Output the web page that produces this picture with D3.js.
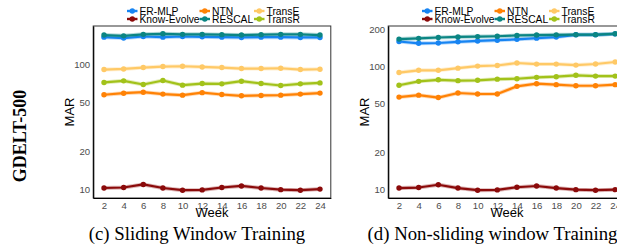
<!DOCTYPE html>
<html><head><meta charset="utf-8">
<script src="https://cdn.jsdelivr.net/npm/d3@7"></script>
<style>
html,body{margin:0;padding:0;background:#fff;}
svg{display:block;}
</style>
</head><body>
<svg id="chart" width="617" height="247"></svg>
<script>
// ---------- DATA ----------
const weeks = [2, 4, 6, 8, 10, 12, 14, 16, 18, 20, 22, 24];
const methods = ["ER-MLP", "Know-Evolve", "NTN", "RESCAL", "TransE", "TransR"];
const xTickLabels = ["2", "4", "6", "8", "10", "12", "14", "16", "18", "20", "22", "24"];
const yTicksSliding = [10, 20, 50, 100];
const yTicksNonSliding = [10, 20, 50, 100, 200];

// (c) Sliding window training
const slidingERMLP      = [166, 163, 168, 166, 168, 167, 166, 165, 166, 166, 165, 165];
const slidingKnowEvolve = [10.2, 10.3, 10.9, 10.2, 9.8, 9.85, 10.3, 10.6, 10.2, 9.9, 9.8, 10.0];
const slidingNTN        = [57.2, 58.9, 60.0, 57.9, 56.8, 59.5, 57.5, 56.1, 56.5, 56.8, 57.9, 59.0];
const slidingRESCAL     = [172.5, 170, 174.8, 176.5, 174.8, 174.8, 173.8, 172.5, 173.8, 174.8, 174.8, 172.5];
const slidingTransE     = [91.2, 92.2, 94.6, 96.4, 96.9, 95.7, 94.6, 92.9, 92.9, 93.4, 91.2, 91.7];
const slidingTransR     = [71.8, 74.0, 69.2, 74.5, 68.3, 70.4, 70.0, 73.5, 70.4, 67.9, 70.0, 71.2];

// (d) Non-sliding window training
const nonslidingERMLP      = [160, 154.6, 155.5, 159, 161.6, 164, 166.7, 170.3, 173.8, 181.4, 181.4, 184.6];
const nonslidingKnowEvolve = [10.2, 10.3, 10.85, 10.2, 9.8, 9.85, 10.35, 10.6, 10.2, 9.9, 9.8, 9.9];
const nonslidingNTN        = [56.3, 58.4, 55.8, 60.8, 59.7, 59.7, 68.9, 72.4, 71.1, 69.7, 69.7, 71.1];
const nonslidingRESCAL     = [167.3, 169.8, 172.4, 174.3, 175.4, 176.6, 179.2, 180.6, 181.3, 182, 182, 184.8];
const nonslidingTransE     = [89.3, 93.1, 93.1, 97.0, 100.8, 101.9, 106.8, 104.6, 104.6, 102.7, 104.8, 108.8];
const nonslidingTransR     = [70.3, 75.7, 77.9, 76.7, 77.2, 78.9, 79.5, 81.6, 82.6, 84.8, 83.5, 83.5];

const rowLabel = "GDELT-500";
const captions = ["(c) Sliding Window Training", "(d) Non-sliding window Training"];

// ---------- STYLE ----------
const colors = {
  "ER-MLP": "#1784f2",
  "Know-Evolve": "#8b0a0a",
  "NTN": "#ff8205",
  "RESCAL": "#0b8583",
  "TransE": "#ffc966",
  "TransR": "#a2c21a"
};
const SANS = "'Liberation Sans', Arial, Helvetica, sans-serif";
const SERIF = "'Liberation Serif', 'Times New Roman', serif";

const svg = d3.select("#chart");

const panels = [
  { left: 93.2, right: 330.8, series: [slidingERMLP, slidingKnowEvolve, slidingNTN, slidingRESCAL, slidingTransE, slidingTransR],
    yTicks: yTicksSliding, caption: captions[0], capX: 197 },
  { left: 388.2, right: 626, series: [nonslidingERMLP, nonslidingKnowEvolve, nonslidingNTN, nonslidingRESCAL, nonslidingTransE, nonslidingTransR],
    yTicks: yTicksNonSliding, caption: captions[1], capX: 492.5 }
];
const plotTop = 26, plotBottom = 198;

panels.forEach(p => {
  const g = svg.append("g");
  const xr = d3.extent(weeks);
  const xpad = (xr[1] - xr[0]) * 0.05;
  const x = d3.scaleLinear().domain([xr[0] - xpad, xr[1] + xpad]).range([p.left, p.right]);
  const all = p.series.flat();
  const lo = Math.log10(d3.min(all)), hi = Math.log10(d3.max(all));
  const ypad = (hi - lo) * 0.05;
  const y = d3.scaleLog().domain([Math.pow(10, lo - ypad), Math.pow(10, hi + ypad)]).range([plotBottom, plotTop]);

  g.append("rect").attr("x", p.left).attr("y", plotTop).attr("width", p.right - p.left).attr("height", plotBottom - plotTop)
    .attr("fill", "none").attr("stroke", "#333").attr("stroke-width", 1);

  const xAxis = d3.axisBottom(x).tickValues(weeks).tickFormat((d, i) => xTickLabels[i]).tickSize(0).tickPadding(4);
  const gx = g.append("g").attr("transform", `translate(0,${plotBottom})`).call(xAxis);
  gx.select(".domain").attr("stroke", "#000").attr("stroke-width", 1.2);
  gx.selectAll("text").attr("fill", "#4d4d4d").style("font-family", SANS).style("font-size", "9.6px");

  const yAxis = d3.axisLeft(y).tickValues(p.yTicks).tickFormat(d3.format("d")).tickSize(0).tickPadding(3);
  const gy = g.append("g").attr("transform", `translate(${p.left},0)`).call(yAxis);
  gy.select(".domain").attr("stroke", "#000").attr("stroke-width", 1.2);
  gy.selectAll("text").attr("fill", "#4d4d4d").style("font-family", SANS).style("font-size", "9.6px");

  g.append("text").attr("x", p.left + 118.8).attr("y", 216.5).attr("text-anchor", "middle")
    .style("font-family", SANS).style("font-size", "13px").attr("fill", "#000").text("Week");
  g.append("text").attr("transform", `translate(${p.left - 19.5},${(plotTop + plotBottom) / 2}) rotate(-90)`)
    .attr("text-anchor", "middle").style("font-family", SANS).style("font-size", "13px").attr("fill", "#000").text("MAR");

  const line = d3.line().x((d, i) => x(weeks[i])).y(d => y(d));
  methods.forEach((m, k) => {
    const vals = p.series[k];
    const sg = g.append("g");
    sg.append("path").attr("d", line(vals)).attr("fill", "none").attr("stroke", colors[m])
      .attr("stroke-width", 4).attr("stroke-opacity", 0.3).attr("stroke-linejoin", "round");
    sg.append("path").attr("d", line(vals)).attr("fill", "none").attr("stroke", colors[m])
      .attr("stroke-width", 2.2).attr("stroke-linejoin", "round");
    sg.selectAll("circle").data(vals).join("circle")
      .attr("cx", (d, i) => x(weeks[i])).attr("cy", d => y(d)).attr("r", 2.7).attr("fill", colors[m]);
  });

  const colOffsets = [46.3, 118.8, 173.3];
  const rowY = [11, 19];
  methods.forEach((m, k) => {
    const col = Math.floor(k / 2), row = k % 2;
    const ts = p.left + colOffsets[col];
    const ly = rowY[row];
    const lg = g.append("g");
    lg.append("line").attr("x1", ts - 12.5).attr("x2", ts - 2).attr("y1", ly).attr("y2", ly)
      .attr("stroke", colors[m]).attr("stroke-width", 2.4);
    lg.append("circle").attr("cx", ts - 7.2).attr("cy", ly).attr("r", 2.7).attr("fill", colors[m]);
    lg.append("text").attr("x", ts).attr("y", ly + 3.7).style("font-family", SANS).style("font-size", "10.3px")
      .attr("fill", "#000").text(m);
  });

  svg.append("text").attr("x", p.capX).attr("y", 239.5).attr("text-anchor", "middle")
    .style("font-family", SERIF).style("font-size", "18.8px").attr("fill", "#000").text(p.caption);
});

svg.append("text").attr("transform", `translate(26,136) rotate(-90)`).attr("text-anchor", "middle")
  .style("font-family", SERIF).style("font-size", "18px").style("font-weight", "bold").attr("fill", "#000").text(rowLabel);
</script>
</body></html>
